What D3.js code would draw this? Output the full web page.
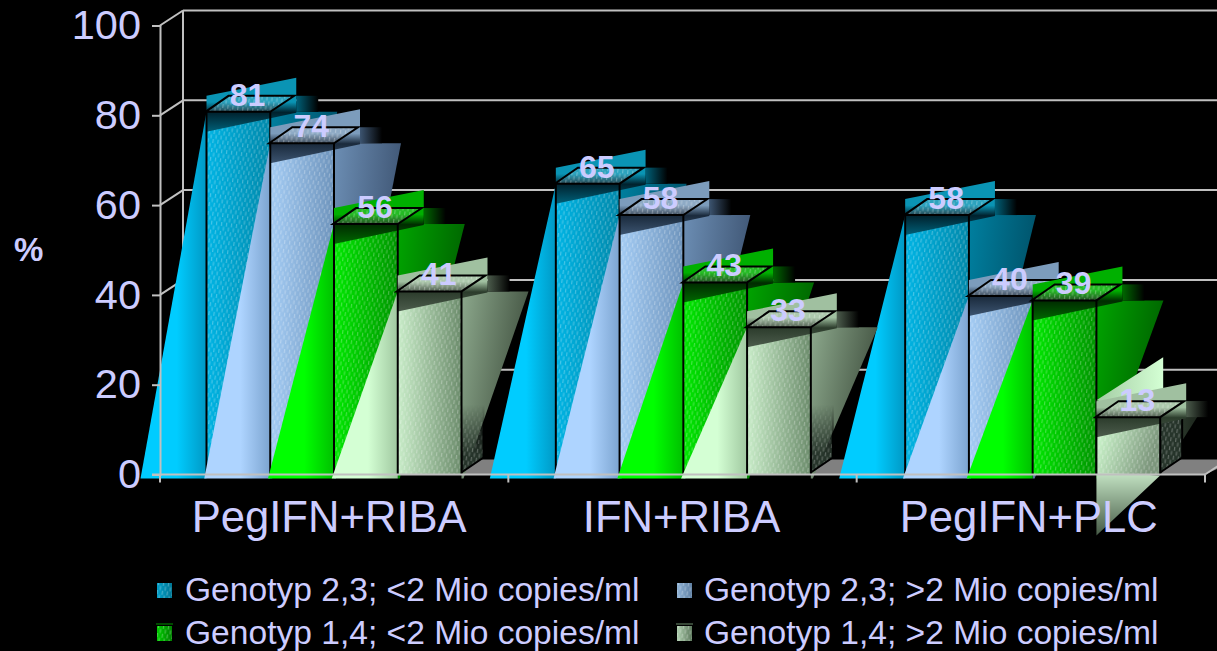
<!DOCTYPE html>
<html>
<head>
<meta charset="utf-8">
<script src="https://cdn.jsdelivr.net/npm/d3@7"></script>
<style>
    html, body { margin: 0; padding: 0; background: #000; overflow: hidden; }
    text { font-family: "Liberation Sans", Arial, sans-serif; fill: #ccccff; }
</style>
</head>
<body>
<div id="chart"></div>
<script>
const categories = ["PegIFN+RIBA", "IFN+RIBA", "PegIFN+PLC"];
const seriesNames = [
    "Genotyp 2,3; <2 Mio copies/ml",
    "Genotyp 2,3; >2 Mio copies/ml",
    "Genotyp 1,4; <2 Mio copies/ml",
    "Genotyp 1,4; >2 Mio copies/ml"
];
const geno23Low = [81, 65, 58];
const geno23High = [74, 58, 40];
const geno14Low = [56, 43, 39];
const geno14High = [41, 33, 13];
const yTicks = [0, 20, 40, 60, 80, 100];

const allValues = [geno23Low, geno23High, geno14Low, geno14High];

// wedge light/dark, front light/dark, side light/dark, band top/under edge/low
const palette = [
    { wa: "#00ccff", wb: "#0098c4", fa: "#00b4e4", fb: "#0088aa", sa: "#007f9f", sb: "#004f66", ba: "#0a94b4", bb: "#00222e", bc: "#006078" },
    { wa: "#aed4ff", wb: "#7ca4d0", fa: "#a4ccf4", fb: "#6e94bc", sa: "#6c8eb4", sb: "#3c5270", ba: "#7c9cbc", bb: "#1a2a3c", bc: "#3c5470" },
    { wa: "#00ff00", wb: "#00c000", fa: "#00e800", fb: "#009400", sa: "#00a400", sb: "#006000", ba: "#00b000", bb: "#002c00", bc: "#006800" },
    { wa: "#d4ffd4", wb: "#a0c8a0", fa: "#c8ecc8", fb: "#6c8c6c", sa: "#8ca88c", sb: "#40503f", ba: "#a0c0a0", bb: "#2c3c2c", bc: "#4c5c4c" }
];

const width = 1217, height = 651;
const depthX = 23, depthY = 15;
const labelNudge = [-5, -1, -2];

let svg = d3.select("#chart").append("svg")
    .attr("width", width)
    .attr("height", height)
    .style("display", "block");

let y = d3.scaleLinear().domain([0, 100]).range([474.5, 25.5]);
let xTick = d3.scaleBand().domain(categories).range([160, 1205]);
let xGroup = d3.scaleBand().domain(categories).range([159.5, 1207.5]);
let xBar = d3.scaleBand().domain(d3.range(4)).range([47, 302]);

let defs = svg.append("defs");

let dots = defs.append("pattern")
    .attr("id", "dots")
    .attr("width", 5).attr("height", 9)
    .attr("patternUnits", "userSpaceOnUse")
    .attr("patternTransform", "rotate(8)");
dots.append("rect").attr("width", 1.2).attr("height", 4).attr("fill", "#fff").attr("opacity", 0.28);
dots.append("rect").attr("x", 2.5).attr("y", 4.5).attr("width", 1.2).attr("height", 4).attr("fill", "#fff").attr("opacity", 0.28);

function gradient(id, x2, y2, stops) {
    let g = defs.append("linearGradient").attr("id", id)
        .attr("x1", 0).attr("y1", 0).attr("x2", x2).attr("y2", y2);
    stops.forEach(s => g.append("stop").attr("offset", s[0]).attr("stop-color", s[1]));
}

palette.forEach((p, i) => {
    gradient("wedge" + i, 1, 0, [[0, p.wa], [0.55, p.wa], [1, p.wb]]);
    gradient("front" + i, 1, 0, [[0, p.fa], [1, p.fb]]);
    gradient("side" + i, 1, 0.4, [[0, p.sa], [1, p.sb]]);
    gradient("band" + i, 0, 1, [[0, p.ba], [0.45, p.ba], [0.64, p.bb], [1, p.bc]]);
    gradient("shadow" + i, 1, 0, [[0, p.bc], [1, "#000"]]);
});
gradient("shortUp", 1, 0, [[0, "#a4cca4"], [1, "#d4ffd4"]]);
gradient("shortDown", 0, 1, [[0, "#c4e4c4"], [1, "#465a46"]]);
gradient("shortFront", 1, 0.3, [[0, "#d4ffd4"], [1, "#7c967c"]]);
gradient("shortSide", 1, 0, [[0, "#3c4c3c"], [1, "#141c14"]]);

// only the low end of the real bar side shows through the wedge
let fade = defs.append("linearGradient").attr("id", "fade")
    .attr("gradientUnits", "userSpaceOnUse")
    .attr("x1", 0).attr("y1", 405).attr("x2", 0).attr("y2", 455);
fade.append("stop").attr("offset", 0).attr("stop-color", "#000");
fade.append("stop").attr("offset", 1).attr("stop-color", "#fff");
defs.append("mask").attr("id", "sideMask").attr("maskUnits", "userSpaceOnUse")
    .attr("x", 0).attr("y", 0).attr("width", width).attr("height", height)
    .append("rect").attr("width", width).attr("height", height).attr("fill", "url(#fade)");

const wallColor = "#c0c0c0";
const line = d3.line();

// floor and back wall
svg.append("path")
    .attr("d", line([[160, y(0)], [160 + depthX, y(0) - depthY], [1237, y(0) - depthY], [1205, y(0)]]) + "Z")
    .attr("fill", "#808080");

let wall = svg.append("g").attr("stroke", wallColor).attr("stroke-width", 2).attr("fill", "none");
wall.selectAll("line.grid")
    .data(yTicks.filter(d => d > 0))
    .join("line")
    .attr("class", "grid")
    .attr("x1", 160 + depthX).attr("x2", width)
    .attr("y1", d => y(d) - depthY).attr("y2", d => y(d) - depthY);
wall.append("line")
    .attr("x1", 160 + depthX).attr("x2", 160 + depthX)
    .attr("y1", y(100) - depthY).attr("y2", y(0) - depthY);
wall.selectAll("path.diag")
    .data(yTicks)
    .join("path")
    .attr("class", "diag")
    .attr("d", d => line([[160, y(d)], [160 + depthX, y(d) - depthY]]));
wall.append("path").attr("d", line([[1205, y(0)], [1205 + depthX, y(0) - depthY]]));

// bars, series after series so each wedge lies over the bar before it
allValues.forEach((values, s) => {
    let layer = svg.append("g").attr("class", "series");
    values.forEach((v, c) => {
        let x0 = xGroup(categories[c]) + xBar(s);
        let x1 = x0 + xBar.bandwidth();
        let top = y(v) + 1;
        let base = y(0) + 4;
        let bottom = y(0);
        let short = v < 20;
        let w = x1 - x0;
        let g = layer.append("g");

        if (short) {
            g.append("path").attr("fill", "url(#shortUp)")
                .attr("d", line([[x0, top - 17], [x0 + w + 3, top - 60], [x0 + w + 3, top]]) + "Z");
            g.append("path").attr("fill", "url(#shortSide)")
                .attr("d", line([[x1, top - 16], [x1 + 47, top - 16], [x1, bottom + 1]]) + "Z");
        } else {
            g.append("path").attr("fill", "url(#side" + s + ")")
                .attr("d", line([[x1, top], [x1 + 67, top], [x1 + 2, base], [x1, base]]) + "Z");
            g.append("path").attr("fill", "url(#wedge" + s + ")")
                .attr("d", line([[x0 - 66, base], [x0, base], [x0, top]]) + "Z");
        }

        // real side of the bar
        let sidePts = line([[x1, bottom - 2], [x1 + depthX - 1, bottom - 2 - depthY], [x1 + depthX - 1, top - depthY], [x1, top]]) + "Z";
        let sideG = g.append("g");
        if (!short) sideG.attr("mask", "url(#sideMask)");
        sideG.append("path").attr("d", sidePts).attr("fill", "#26342a");
        sideG.append("path").attr("d", sidePts).attr("fill", "url(#dots)");
        sideG.append("path").attr("d", sidePts).attr("fill", "none").attr("stroke", "#000").attr("stroke-width", 2);

        g.append("rect").attr("x", x0).attr("y", top).attr("width", w).attr("height", bottom - top)
            .attr("fill", short ? "url(#shortFront)" : "url(#front" + s + ")");
        g.append("rect").attr("x", x0).attr("y", top).attr("width", w).attr("height", bottom - top)
            .attr("fill", "url(#dots)");

        if (short) {
            g.append("path").attr("fill", "url(#shortDown)")
                .attr("d", line([[x0, bottom - 2], [x1, bottom + 1], [x0, bottom + 61]]) + "Z");
        }

        // shifted band and its shadow
        g.append("rect").attr("x", x1 + 26).attr("y", top - 16).attr("width", 22).attr("height", 16)
            .attr("fill", "url(#shadow" + s + ")");
        g.append("path").attr("fill", "url(#band" + s + ")")
            .attr("d", line([[x0, top - 16], [x1 + 26, top - 34], [x1 + 26, top + 1], [x0, top + 20]]) + "Z");

        g.selectAll("line.edge")
            .data([x0, x1])
            .join("line")
            .attr("class", "edge")
            .attr("x1", d => d).attr("x2", d => d)
            .attr("y1", top).attr("y2", bottom)
            .attr("stroke", "#000").attr("stroke-width", 2);

        let topPts = line([[x0 - 1, top], [x1, top], [x1 + 24, top - 16], [x0 + 22, top - 16]]) + "Z";
        g.append("path").attr("d", topPts).attr("fill", "#fff").attr("fill-opacity", 0.14);
        g.append("path").attr("d", topPts).attr("fill", "url(#dots)");
        g.append("path").attr("d", topPts).attr("fill", "none").attr("stroke", "#000").attr("stroke-width", 2);
    });
});

// axes go over the bars
let yAxis = svg.append("g")
    .attr("transform", "translate(160,0)")
    .call(d3.axisLeft(y).tickValues(yTicks).tickSize(8).tickPadding(11));
yAxis.selectAll("line, path").attr("stroke", wallColor).attr("stroke-width", 2);
yAxis.selectAll("text").style("font-size", "41.5px").style("font-family", "Liberation Sans").attr("fill", "#ccccff");

svg.append("line")
    .attr("x1", 152).attr("x2", 1205).attr("y1", y(0)).attr("y2", y(0))
    .attr("stroke", wallColor).attr("stroke-width", 2);
svg.selectAll("line.xtick")
    .data(xTick.domain().map(d => xTick(d)).concat([1205]))
    .join("line")
    .attr("class", "xtick")
    .attr("x1", d => d).attr("x2", d => d)
    .attr("y1", y(0)).attr("y2", y(0) + 8)
    .attr("stroke", wallColor).attr("stroke-width", 2);

svg.selectAll("text.cat")
    .data(categories)
    .join("text")
    .attr("class", "cat")
    .attr("x", (d, i) => xTick(d) + xTick.bandwidth() / 2 + labelNudge[i])
    .attr("y", 532)
    .attr("text-anchor", "middle")
    .style("font-size", "43.6px")
    .text(d => d);

// value labels
allValues.forEach((values, s) => {
    svg.append("g").selectAll("text")
        .data(values)
        .join("text")
        .attr("x", (d, c) => xGroup(categories[c]) + xBar(s) + 41)
        .attr("y", d => y(d) - 5)
        .attr("text-anchor", "middle")
        .style("font-size", "32px")
        .style("font-weight", "bold")
        .text(d => d);
});

svg.append("text").attr("x", 14).attr("y", 261)
    .style("font-size", "33px").style("font-weight", "bold").text("%");

// legend
let legendX = d3.scaleOrdinal().domain([0, 1]).range([157, 677]);
let legendY = d3.scaleOrdinal().domain([0, 1]).range([590, 633]);
let legend = svg.selectAll("g.legend")
    .data(seriesNames)
    .join("g")
    .attr("class", "legend")
    .attr("transform", (d, i) => "translate(" + legendX(i % 2) + "," + legendY(Math.floor(i / 2)) + ")");
legend.append("rect")
    .attr("x", 0).attr("y", -7).attr("width", 15).attr("height", 15)
    .attr("fill", (d, i) => "url(#front" + i + ")");
legend.append("rect")
    .attr("x", 0).attr("y", -7).attr("width", 15).attr("height", 15)
    .attr("fill", "#000").attr("fill-opacity", 0.12);
legend.append("rect")
    .attr("x", 0).attr("y", -7).attr("width", 15).attr("height", 15)
    .attr("fill", "url(#dots)");
legend.filter((d, i) => i > 1).append("line")
    .attr("x1", -1).attr("x2", 16).attr("y1", -9).attr("y2", -9)
    .attr("stroke", (d, i) => palette[i + 2].fb).attr("stroke-width", 1);
legend.append("text")
    .attr("x", (d, i) => i % 2 ? 27 : 28)
    .attr("y", 11)
    .style("font-size", "33.6px")
    .text(d => d);
</script>
</body>
</html>
